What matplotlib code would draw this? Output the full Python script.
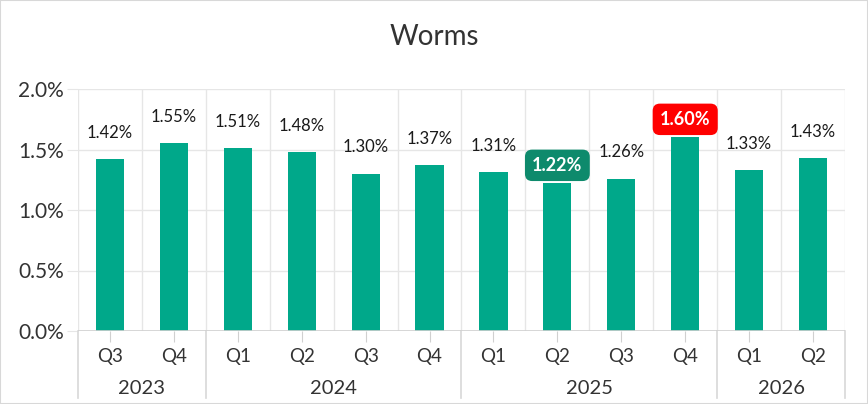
import matplotlib
matplotlib.use('Agg')
from matplotlib import pyplot as plt
from matplotlib.patches import Rectangle
import matplotlib.transforms as mtransforms

# data
quarters = ['Q3', 'Q4', 'Q1', 'Q2', 'Q3', 'Q4', 'Q1', 'Q2', 'Q3', 'Q4', 'Q1', 'Q2']
values = [1.42, 1.55, 1.51, 1.48, 1.30, 1.37, 1.31, 1.22, 1.26, 1.60, 1.33, 1.43]
years = ['2023', '2024', '2025', '2026']
year_counts = [2, 4, 4, 2]

BAR = '#00A88A'
GRID = '#E6E6E6'
TXT = '#333333'
plt.rcParams['font.family'] = ['Lato', 'DejaVu Sans']

fig = plt.figure(figsize=(8.68, 4.04), dpi=100)
ax = fig.add_axes([78/868, 1-331/404, 767/868, 242/404])

x = list(range(len(values)))
ax.bar(x, values, width=0.44, color=BAR, zorder=3)
ax.set_xlim(-0.5, len(values) - 0.5)
ax.set_ylim(0, 2.0)
ax.set_yticks([0, 0.5, 1.0, 1.5, 2.0])
ax.set_yticklabels(['%.1f%%' % v for v in [0, 0.5, 1.0, 1.5, 2.0]], fontsize=15, color=TXT)
ax.yaxis.grid(True, color=GRID, lw=1, zorder=0)
for b in range(len(values) + 1):
    ax.axvline(b - 0.5, color=GRID, lw=1, zorder=0)
for s in ax.spines.values():
    s.set_visible(False)
ax.axhline(0, color='#D0D0D0', lw=1.2, zorder=4)
ax.tick_params(axis='y', length=8, color=GRID, pad=2)

ax.set_xticks(x)
ax.set_xticklabels(quarters, fontsize=13.5, color=TXT)
ax.tick_params(axis='x', length=8, color='#D0D0D0', pad=4)

# value labels, min and max highlighted
vmin = min(values)
vmax = max(values)
for xi, v in zip(x, values):
    lbl = '%.2f%%' % v
    if v == vmax or v == vmin:
        fc = '#FF0000' if v == vmax else '#0E8A6C'
        ax.annotate(lbl, (xi, v), xytext=(0, 13), textcoords='offset points', ha='center',
                    va='center', fontsize=13, color='white', fontweight='bold',
                    bbox=dict(boxstyle='round,pad=0.4,rounding_size=0.4', fc=fc, ec='none'))
    else:
        ax.annotate(lbl, (xi, v), xytext=(0, 19), textcoords='offset points', ha='center',
                    va='center', fontsize=12, color='#1a1a1a')

# year row below quarters
trans = mtransforms.blended_transform_factory(ax.transData, fig.transFigure)
start = 0
for yr, n in zip(years, year_counts):
    ax.plot([start - 0.5, start - 0.5], [1-331/404, 1-398/404], transform=trans,
            color='#D8D8D8', lw=1.2, clip_on=False)
    ax.text(start + n/2 - 0.5, 1-389/404, yr, transform=trans, ha='center', va='center',
            fontsize=14.5, color=TXT)
    start += n
ax.plot([start - 0.5, start - 0.5], [1-331/404, 1-398/404], transform=trans,
        color='#D8D8D8', lw=1.2, clip_on=False)

fig.text(0.5, 1-37/404, 'Worms', ha='center', va='center', fontsize=20, color=TXT)
fig.patches.append(Rectangle((0, 0), 1, 1, transform=fig.transFigure, fill=False,
                             ec='#D8D8D8', lw=1.5))

fig.savefig('out.png', dpi=100)
